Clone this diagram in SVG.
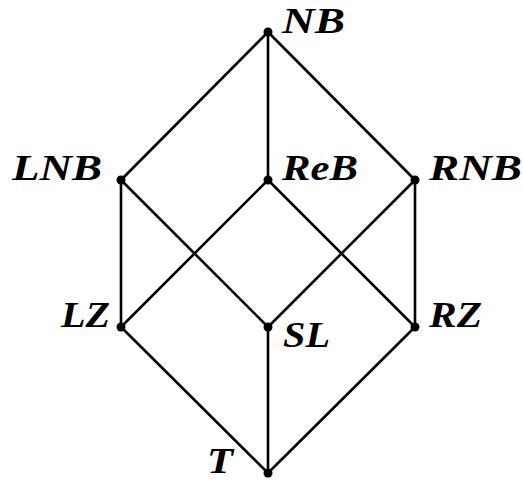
<svg xmlns="http://www.w3.org/2000/svg" width="523" height="480" viewBox="0 0 523 480">
  <style>
    .edge { stroke: #000; stroke-width: 2.6; fill: none; stroke-linecap: round; }
    .dot { fill: #000; }
    .lbl { font-family: "Liberation Serif", "DejaVu Serif", serif; font-style: italic; font-weight: bold; font-size: 35px; fill: #000; }
  </style>
  <rect width="523" height="480" fill="#fff"/>
  <g id="connectors">
    <line class="edge" x1="268" y1="32" x2="121" y2="180"/>
    <line class="edge" x1="268" y1="32" x2="268" y2="180"/>
    <line class="edge" x1="268" y1="32" x2="415" y2="180"/>
    <line class="edge" x1="121" y1="180" x2="121" y2="327"/>
    <line class="edge" x1="121" y1="180" x2="268" y2="327"/>
    <line class="edge" x1="268" y1="180" x2="121" y2="327"/>
    <line class="edge" x1="268" y1="180" x2="415" y2="327"/>
    <line class="edge" x1="415" y1="180" x2="268" y2="327"/>
    <line class="edge" x1="415" y1="180" x2="415" y2="327"/>
    <line class="edge" x1="121" y1="327" x2="268" y2="473"/>
    <line class="edge" x1="268" y1="327" x2="268" y2="473"/>
    <line class="edge" x1="415" y1="327" x2="268" y2="473"/>
  </g>
  <g id="NB"><circle class="dot" cx="268" cy="32" r="4.5"/><text class="lbl" x="282" y="33" textLength="63" lengthAdjust="spacingAndGlyphs">NB</text></g>
  <g id="LNB"><circle class="dot" cx="121" cy="180" r="4.5"/><text class="lbl" x="12" y="180" textLength="90" lengthAdjust="spacingAndGlyphs">LNB</text></g>
  <g id="ReB"><circle class="dot" cx="268" cy="180" r="4.5"/><text class="lbl" x="282" y="180" textLength="76" lengthAdjust="spacingAndGlyphs">ReB</text></g>
  <g id="RNB"><circle class="dot" cx="415" cy="180" r="4.5"/><text class="lbl" x="429" y="180" textLength="93" lengthAdjust="spacingAndGlyphs">RNB</text></g>
  <g id="LZ"><circle class="dot" cx="121" cy="327" r="4.5"/><text class="lbl" x="61" y="327" textLength="49" lengthAdjust="spacingAndGlyphs">LZ</text></g>
  <g id="SL"><circle class="dot" cx="268" cy="327" r="4.5"/><text class="lbl" x="283" y="347" textLength="47" lengthAdjust="spacingAndGlyphs">SL</text></g>
  <g id="RZ"><circle class="dot" cx="415" cy="327" r="4.5"/><text class="lbl" x="429" y="327" textLength="53" lengthAdjust="spacingAndGlyphs">RZ</text></g>
  <g id="T"><circle class="dot" cx="268" cy="473" r="4.5"/><text class="lbl" x="207" y="473" textLength="26" lengthAdjust="spacingAndGlyphs">T</text></g>
</svg>
